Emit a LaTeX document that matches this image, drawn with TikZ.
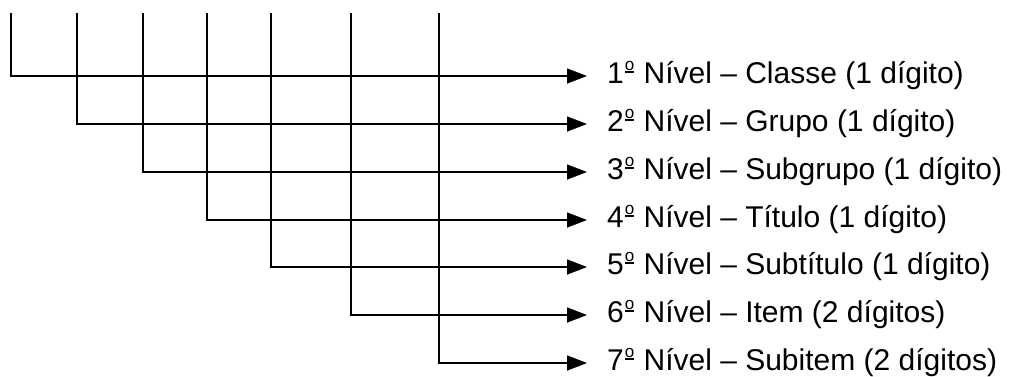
\documentclass[tikz,border=0pt]{standalone}
\usepackage{fontspec}
\setmainfont{Liberation Sans}
\usetikzlibrary{arrows.meta}
\newcommand\ordu{\makebox[0.38em][l]{\hspace{0.03em}\raisebox{0.42em}{\fontsize{17}{17}\selectfont o}\llap{\rule[0.33em]{0.31em}{0.06em}}}}
\begin{document}
\begin{tikzpicture}[x=1pt,y=-1pt,
  conn/.style={line width=1.4pt,-{Triangle[length=20pt,width=15pt]},shorten >=20pt},
  lbl/.style={anchor=west,inner sep=0pt,text height=14pt,text depth=0pt,font=\fontsize{30}{32}\selectfont}]
\useasboundingbox (0,0) rectangle (1009,376);
\foreach \i/\x/\y/\t in {1/11/76/{1\ordu{} Nível – Classe (1 dígito)},
                          2/77/124/{2\ordu{} Nível – Grupo (1 dígito)},
                          3/143/172/{3\ordu{} Nível – Subgrupo (1 dígito)},
                          4/207/220/{4\ordu{} Nível – Título (1 dígito)},
                          5/271/267/{5\ordu{} Nível – Subtítulo (1 dígito)},
                          6/351/315/{6\ordu{} Nível – Item (2 dígitos)},
                          7/439/363/{7\ordu{} Nível – Subitem (2 dígitos)}}{
  \coordinate (t\i) at (\x,13);
  \node[lbl] (L\i) at (607,\y) {\t};
  \draw[conn] (t\i) |- (L\i.west);
}
\end{tikzpicture}
\end{document}
